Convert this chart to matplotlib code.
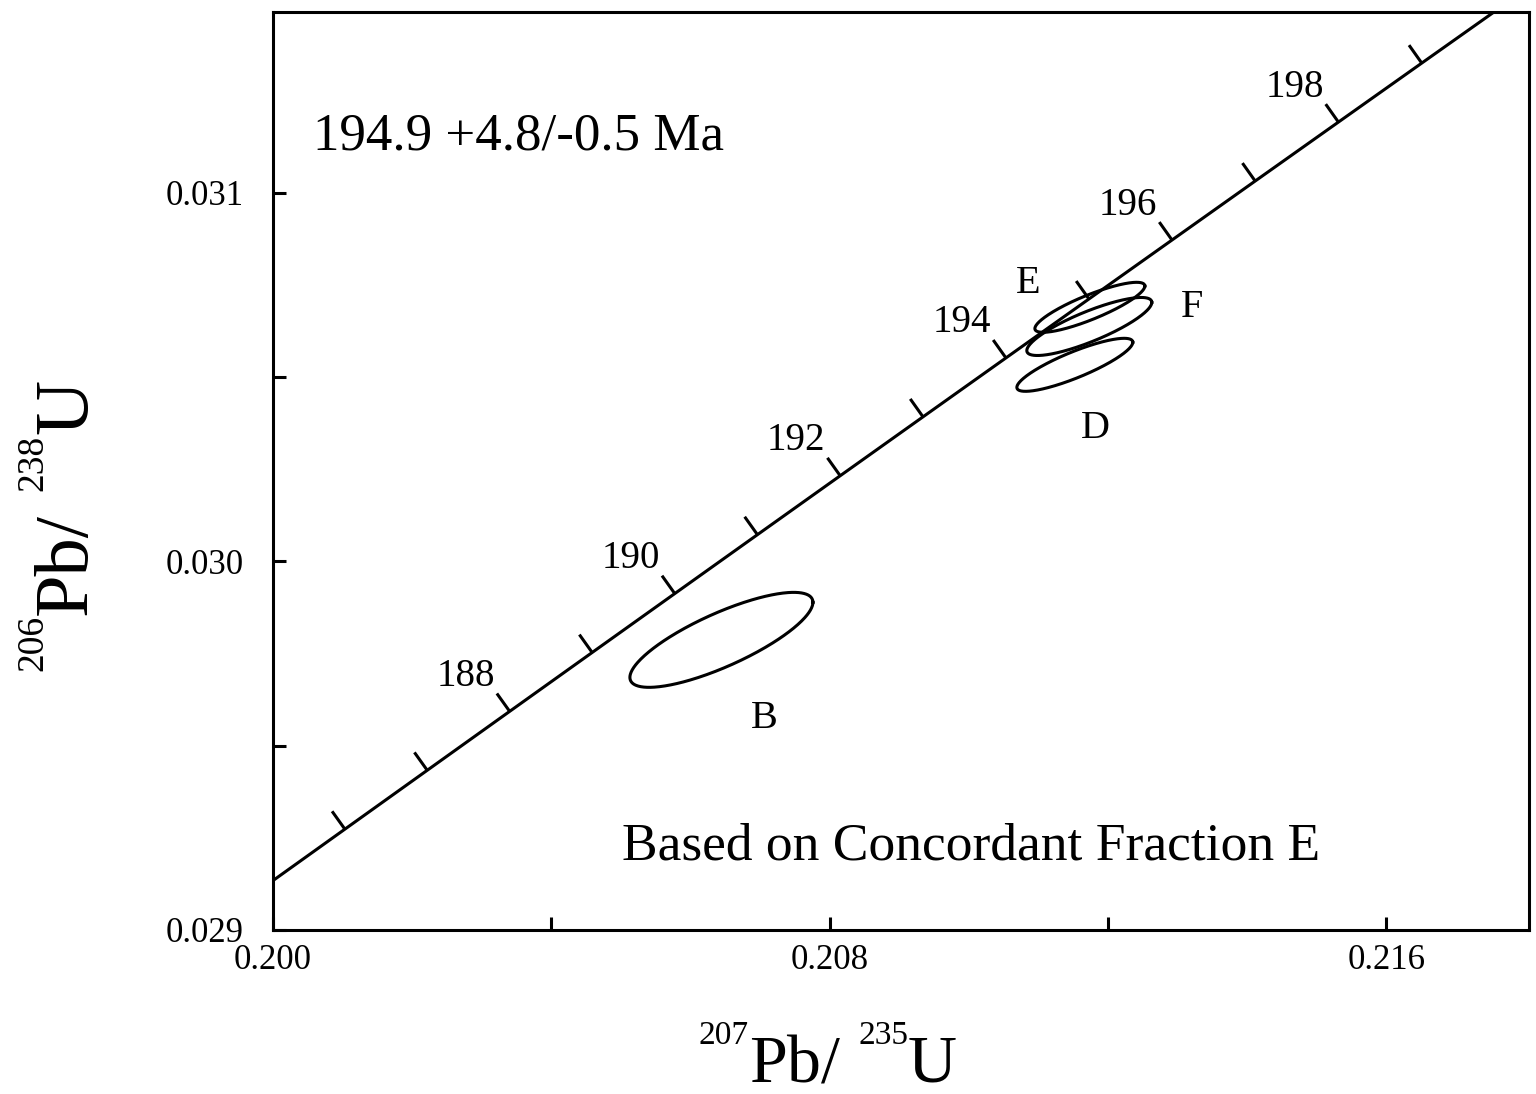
import numpy as np
import matplotlib
matplotlib.use("Agg")
import matplotlib.pyplot as plt
from matplotlib.ticker import FixedLocator, FixedFormatter, NullFormatter
from matplotlib.transforms import IdentityTransform

SERIF = "Liberation Serif"
plt.rcParams["font.family"] = [SERIF, "DejaVu Serif"]

# ---- Concordia (age in Ma, 207Pb/235U, 206Pb/238U) ----
concordia_age = [185, 186, 187, 188, 189, 190, 191, 192, 193, 194,
                 195, 196, 197, 198, 199, 200]
concordia_x = [0.1998508, 0.2010330, 0.2022164, 0.2034010, 0.2045867,
               0.2057737, 0.2069618, 0.2081510, 0.2093414, 0.2105330,
               0.2117258, 0.2129197, 0.2141148, 0.2153111, 0.2165086,
               0.2177073]
concordia_y = [0.0291139, 0.0292735, 0.0294332, 0.0295930, 0.0297527,
               0.0299125, 0.0300723, 0.0302321, 0.0303919, 0.0305517,
               0.0307116, 0.0308715, 0.0310315, 0.0311914, 0.0313514,
               0.0315114]
tick_ages = [186, 187, 188, 189, 190, 191, 192, 193, 194, 195, 196, 197, 198, 199]
label_ages = [188, 190, 192, 194, 196, 198]

# ---- Fractions: error ellipses ----
frac_name = ["B", "D", "E", "F"]
frac_x = [0.206444, 0.211523, 0.211739, 0.211731]
frac_sx = [0.001315, 0.000833, 0.000790, 0.000898]
frac_y = [0.029787, 0.030533, 0.030689, 0.030637]
frac_sy = [0.0001288, 0.0000719, 0.0000678, 0.0000787]
frac_rho = [0.79, 0.85, 0.85, 0.83]
frac_label_x = [0.207062, 0.211825, 0.210848, 0.213204]
frac_label_y = [0.029547, 0.030334, 0.030727, 0.030662]

# ---- Axes ticks ----
x_major = [0.200, 0.208, 0.216]
x_major_labels = ["0.200", "0.208", "0.216"]
x_minor = [0.204, 0.212]
y_major = [0.029, 0.030, 0.031]
y_major_labels = ["0.029", "0.030", "0.031"]
y_minor = [0.0295, 0.0305]

age_text = "194.9 +4.8/-0.5 Ma"
note_text = "Based on Concordant Fraction E"

W, H = 1536, 1094
fig = plt.figure(figsize=(W / 100, H / 100), dpi=100)
ax = fig.add_axes([273 / W, (H - 930) / H, (1529 - 273) / W, (930 - 12) / H])
ax.set_xlim(0.200, 0.21805)
ax.set_ylim(0.029, 0.03149)

LW = 2.2
for s in ax.spines.values():
    s.set_linewidth(LW)

ax.xaxis.set_major_locator(FixedLocator(x_major))
ax.xaxis.set_major_formatter(FixedFormatter(x_major_labels))
ax.xaxis.set_minor_locator(FixedLocator(x_minor))
ax.xaxis.set_minor_formatter(NullFormatter())
ax.yaxis.set_major_locator(FixedLocator(y_major))
ax.yaxis.set_major_formatter(FixedFormatter(y_major_labels))
ax.yaxis.set_minor_locator(FixedLocator(y_minor))
ax.yaxis.set_minor_formatter(NullFormatter())
ax.tick_params(axis="both", which="both", direction="in", length=9.5, width=LW,
               labelsize=25)
ax.tick_params(axis="x", which="major", pad=10)
ax.tick_params(axis="y", which="major", pad=21)
for lab in ax.get_xticklabels() + ax.get_yticklabels():
    lab.set_family(SERIF)

# Concordia curve
cx = np.array(concordia_x)
cy = np.array(concordia_y)
ax.plot(cx, cy, color="black", lw=LW, solid_capstyle="butt", clip_on=True)

# Concordia age ticks (perpendicular, pointing up-left) and labels
pts = ax.transData.transform(np.column_stack([cx, cy]))
grad = np.gradient(pts, axis=0)
inv = ax.transData.inverted()
TICK_PX = 22
for age in tick_ages:
    i = concordia_age.index(age)
    d = grad[i] / np.hypot(*grad[i])
    perp = np.array([-d[1], d[0]])
    end = pts[i] + perp * TICK_PX
    p0 = inv.transform(pts[i])
    p1 = inv.transform(end)
    ax.plot([p0[0], p1[0]], [p0[1], p1[1]], color="black", lw=LW,
            solid_capstyle="butt")
    if age in label_ages:
        ax.annotate(str(age), xy=(cx[i], cy[i]), xytext=(-44, 35),
                    textcoords="offset pixels", ha="center", va="center",
                    fontsize=28, family=SERIF)

# Error ellipses
theta = np.linspace(0, 2 * np.pi, 400)
for x0, sx, y0, sy, r in zip(frac_x, frac_sx, frac_y, frac_sy, frac_rho):
    ex = x0 + sx * np.cos(theta)
    ey = y0 + sy * (r * np.cos(theta) + np.sqrt(1 - r * r) * np.sin(theta))
    ax.plot(ex, ey, color="black", lw=LW)

for name, lx, ly in zip(frac_name, frac_label_x, frac_label_y):
    ax.text(lx, ly, name, ha="center", va="baseline", fontsize=29, family=SERIF)

ax.text((313 - 273) / 1256, (930 - 150) / 918, age_text, transform=ax.transAxes,
        ha="left", va="baseline", fontsize=38.2, family=SERIF)
ax.text((622 - 273) / 1256, (930 - 860) / 918, note_text, transform=ax.transAxes,
        ha="left", va="baseline", fontsize=38.5, family=SERIF)


# Composite axis labels with small superscript mass numbers
def compose(pieces, center, base, vertical=False):
    objs = []
    for s, size, rise, gap in pieces:
        t = fig.text(0, 0, s, fontsize=size, family=SERIF,
                     rotation=90 if vertical else 0, rotation_mode="anchor",
                     ha="left", va="baseline", transform=IdentityTransform())
        objs.append((t, rise, gap))
    fig.canvas.draw()
    rend = fig.canvas.get_renderer()
    widths = []
    for t, rise, gap in objs:
        bb = t.get_window_extent(rend)
        widths.append((bb.height if vertical else bb.width) + gap)
    pos = center - sum(widths) / 2
    for (t, rise, gap), w in zip(objs, widths):
        if vertical:
            t.set_position((base - rise, pos))
        else:
            t.set_position((pos, base + rise))
        pos += w


compose([("207", 24, 38, 0), ("Pb/", 49, 0, 18), ("235", 24, 38, 0),
         ("U", 49, 0, 0)], center=828, base=H - 1082)
compose([("206", 27, 44, 0), ("Pb/", 55, 0, 22), ("238", 27, 44, 0),
         ("U", 55, 0, 0)], center=H - 525, base=86, vertical=True)

fig.savefig("out.png", dpi=100)
